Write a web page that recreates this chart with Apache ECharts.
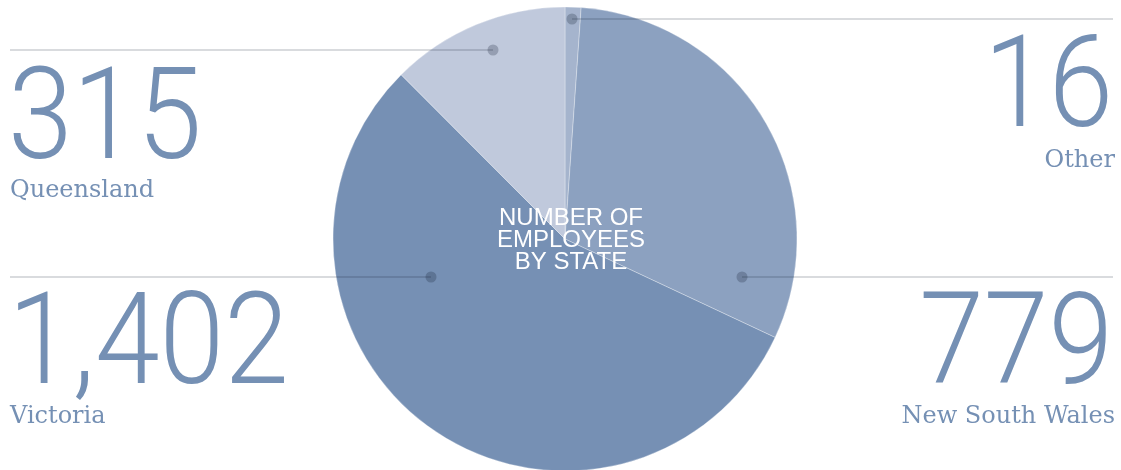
<!DOCTYPE html>
<html><head><meta charset="utf-8">
<script src="https://cdn.jsdelivr.net/npm/echarts@6/dist/echarts.min.js"></script>
<style>html,body{margin:0;padding:0;background:#fff}#c{width:1121px;height:470px}</style>
</head><body><div id="c"></div>
<script>
var states = ['Other', 'New South Wales', 'Victoria', 'Queensland'];
var employees = [16, 779, 1402, 315];
var sliceColors = ['#a5b4cd', '#8ca1c0', '#7690b4', '#c0c9dc'];
var centerTitle = 'NUMBER OF\nEMPLOYEES\nBY STATE';

// annotation layout per state
var annot = {
  'Other':           {side: 'right', lineY: 19,  dotX: 572, numY: 94,  nameY: 161},
  'New South Wales': {side: 'right', lineY: 277, dotX: 742, numY: 351, nameY: 417},
  'Victoria':        {side: 'left',  lineY: 277, dotX: 431, numY: 351, nameY: 417},
  'Queensland':      {side: 'left',  lineY: 50,  dotX: 493, numY: 126, nameY: 191}
};
var txtColor = '#7590b4';
var leftX = 10, rightX = 1113;

function fmt(v){ return v.toLocaleString('en-US'); }

var graphics = [];
states.forEach(function(s, i){
  var a = annot[s];
  var right = a.side === 'right';
  graphics.push({type:'line', z:100, silent:true,
    shape:{x1: right ? a.dotX : leftX, y1:a.lineY, x2: right ? rightX : a.dotX, y2:a.lineY},
    style:{stroke:'rgba(20,30,50,0.16)', lineWidth:2}});
  graphics.push({type:'circle', z:101, silent:true,
    shape:{cx:a.dotX, cy:a.lineY, r:5.5},
    style:{fill:'rgba(20,30,50,0.25)'}});
  graphics.push({type:'text', z:100, silent:true,
    x: right ? rightX : leftX - 2, y: a.numY, scaleX: 0.91,
    style:{text: fmt(employees[i]), fill: txtColor, font:'300 128px Roboto',
      textAlign: right ? 'right' : 'left', textVerticalAlign:'middle'}});
  graphics.push({type:'text', z:100, silent:true,
    x: right ? rightX + 2 : leftX, y: a.nameY,
    style:{text: s, fill: txtColor, font:'24px "DejaVu Serif"',
      textAlign: right ? 'right' : 'left', textVerticalAlign:'middle'}});
});
graphics.push({type:'text', z:100, silent:true, x:571, y:240,
  style:{text:centerTitle, fill:'#ffffff', font:'24px "Liberation Sans"', lineHeight:22,
    textAlign:'center', textVerticalAlign:'middle'}});

var chart = echarts.init(document.getElementById('c'), null, {renderer:'canvas'});
chart.setOption({
  animation:false,
  series:[{
    type:'pie', silent:true,
    center:[565, 239], radius:232,
    startAngle:90, clockwise:true, minAngle:4,
    label:{show:false}, labelLine:{show:false},
    itemStyle:{borderColor:'rgba(255,255,255,0.3)', borderWidth:1},
    data: states.map(function(s,i){ return {name:s, value:employees[i], itemStyle:{color:sliceColors[i]}}; })
  }],
  graphic: graphics
});
</script></body></html>
